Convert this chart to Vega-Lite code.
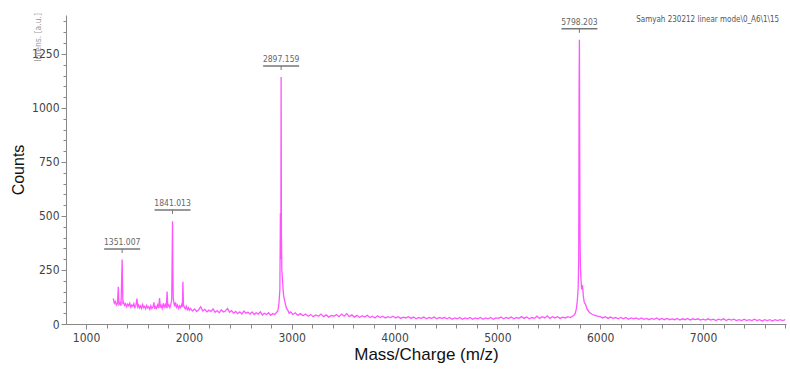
{
  "$schema": "https://vega.github.io/schema/vega-lite/v6.json",
  "width": 720,
  "height": 309,
  "autosize": "none",
  "padding": {"left": 66, "top": 15, "right": 4, "bottom": 45},
  "background": "white",
  "config": {"view": {"stroke": null}, "font": "Liberation Sans"},
  "datasets": {
    "spectrum": [
      {"mz":1265,"counts":118},{"mz":1275,"counts":96},{"mz":1285,"counts":104},{"mz":1295,"counts":88},{"mz":1305,"counts":95},{"mz":1314,"counts":172},{"mz":1320,"counts":90},{"mz":1330,"counts":98},{"mz":1340,"counts":84},{"mz":1351,"counts":298},{"mz":1358,"counts":92},{"mz":1365,"counts":100},{"mz":1375,"counts":86},{"mz":1385,"counts":94},{"mz":1395,"counts":80},{"mz":1405,"counts":92},{"mz":1415,"counts":84},{"mz":1425,"counts":96},{"mz":1435,"counts":78},{"mz":1445,"counts":88},{"mz":1455,"counts":82},{"mz":1465,"counts":94},{"mz":1475,"counts":76},{"mz":1485,"counts":86},{"mz":1495,"counts":118},{"mz":1502,"counts":80},{"mz":1510,"counts":88},{"mz":1520,"counts":74},{"mz":1530,"counts":84},{"mz":1540,"counts":72},{"mz":1550,"counts":90},{"mz":1560,"counts":76},{"mz":1570,"counts":82},{"mz":1580,"counts":70},{"mz":1590,"counts":86},{"mz":1600,"counts":74},{"mz":1610,"counts":80},{"mz":1620,"counts":68},{"mz":1630,"counts":84},{"mz":1640,"counts":72},{"mz":1650,"counts":78},{"mz":1660,"counts":100},{"mz":1668,"counts":70},{"mz":1675,"counts":80},{"mz":1685,"counts":72},{"mz":1695,"counts":88},{"mz":1705,"counts":74},{"mz":1715,"counts":120},{"mz":1722,"counts":76},{"mz":1730,"counts":86},{"mz":1740,"counts":72},{"mz":1750,"counts":96},{"mz":1760,"counts":78},{"mz":1770,"counts":90},{"mz":1780,"counts":74},{"mz":1788,"counts":150},{"mz":1795,"counts":80},{"mz":1805,"counts":88},{"mz":1815,"counts":76},{"mz":1825,"counts":92},{"mz":1833,"counts":110},{"mz":1838,"counts":333},{"mz":1841,"counts":476},{"mz":1844,"counts":250},{"mz":1848,"counts":120},{"mz":1855,"counts":96},{"mz":1862,"counts":82},{"mz":1870,"counts":100},{"mz":1880,"counts":78},{"mz":1890,"counts":88},{"mz":1900,"counts":72},{"mz":1910,"counts":84},{"mz":1920,"counts":76},{"mz":1930,"counts":90},{"mz":1937,"counts":80},{"mz":1942,"counts":195},{"mz":1947,"counts":90},{"mz":1955,"counts":78},{"mz":1965,"counts":70},{"mz":1975,"counts":82},{"mz":1985,"counts":66},{"mz":1995,"counts":76},{"mz":2005,"counts":64},
      {"mz":2015,"counts":72},{"mz":2035,"counts":60},{"mz":2055,"counts":70},{"mz":2075,"counts":58},{"mz":2095,"counts":66},{"mz":2115,"counts":80},{"mz":2135,"counts":60},{"mz":2155,"counts":68},{"mz":2175,"counts":56},{"mz":2195,"counts":64},{"mz":2215,"counts":58},{"mz":2235,"counts":70},{"mz":2255,"counts":54},{"mz":2275,"counts":62},{"mz":2295,"counts":52},{"mz":2315,"counts":66},{"mz":2335,"counts":56},{"mz":2355,"counts":60},{"mz":2375,"counts":72},{"mz":2395,"counts":54},{"mz":2415,"counts":62},{"mz":2435,"counts":50},{"mz":2455,"counts":58},{"mz":2475,"counts":48},{"mz":2495,"counts":56},{"mz":2515,"counts":46},{"mz":2535,"counts":60},{"mz":2555,"counts":50},{"mz":2575,"counts":54},{"mz":2595,"counts":46},{"mz":2615,"counts":56},{"mz":2635,"counts":44},{"mz":2655,"counts":52},{"mz":2675,"counts":46},{"mz":2695,"counts":56},{"mz":2715,"counts":42},{"mz":2735,"counts":50},{"mz":2755,"counts":44},{"mz":2775,"counts":52},{"mz":2795,"counts":40},{"mz":2815,"counts":48},{"mz":2835,"counts":44},{"mz":2850,"counts":52},{"mz":2865,"counts":60},{"mz":2875,"counts":90},{"mz":2885,"counts":160},{"mz":2890,"counts":514},{"mz":2894,"counts":300},{"mz":2897,"counts":1143},{"mz":2900,"counts":420},{"mz":2904,"counts":250},{"mz":2910,"counts":210},{"mz":2916,"counts":160},{"mz":2922,"counts":130},{"mz":2930,"counts":110},{"mz":2940,"counts":90},{"mz":2950,"counts":72},{"mz":2962,"counts":64},{"mz":2975,"counts":50},{"mz":2990,"counts":56},
      {"mz":3010,"counts":44},{"mz":3035,"counts":52},{"mz":3060,"counts":40},{"mz":3085,"counts":48},{"mz":3110,"counts":38},{"mz":3135,"counts":46},{"mz":3160,"counts":36},{"mz":3185,"counts":44},{"mz":3210,"counts":34},{"mz":3235,"counts":42},{"mz":3260,"counts":36},{"mz":3285,"counts":46},{"mz":3310,"counts":34},{"mz":3335,"counts":42},{"mz":3360,"counts":32},{"mz":3385,"counts":40},{"mz":3410,"counts":36},{"mz":3435,"counts":44},{"mz":3460,"counts":34},{"mz":3485,"counts":46},{"mz":3510,"counts":36},{"mz":3535,"counts":48},{"mz":3560,"counts":34},{"mz":3585,"counts":42},{"mz":3610,"counts":32},{"mz":3635,"counts":40},{"mz":3660,"counts":30},{"mz":3685,"counts":38},{"mz":3710,"counts":32},{"mz":3735,"counts":40},{"mz":3760,"counts":30},{"mz":3785,"counts":36},{"mz":3810,"counts":28},{"mz":3835,"counts":38},{"mz":3860,"counts":30},{"mz":3885,"counts":36},{"mz":3910,"counts":28},{"mz":3935,"counts":34},{"mz":3960,"counts":30},{"mz":3985,"counts":36},
      {"mz":4010,"counts":28},{"mz":4035,"counts":34},{"mz":4060,"counts":26},{"mz":4085,"counts":32},{"mz":4110,"counts":28},{"mz":4135,"counts":34},{"mz":4160,"counts":26},{"mz":4185,"counts":32},{"mz":4210,"counts":24},{"mz":4235,"counts":30},{"mz":4260,"counts":26},{"mz":4285,"counts":32},{"mz":4310,"counts":24},{"mz":4335,"counts":30},{"mz":4360,"counts":26},{"mz":4385,"counts":32},{"mz":4410,"counts":24},{"mz":4435,"counts":30},{"mz":4460,"counts":26},{"mz":4485,"counts":30},{"mz":4510,"counts":24},{"mz":4535,"counts":30},{"mz":4560,"counts":22},{"mz":4585,"counts":28},{"mz":4610,"counts":24},{"mz":4635,"counts":30},{"mz":4660,"counts":22},{"mz":4685,"counts":28},{"mz":4710,"counts":24},{"mz":4735,"counts":30},{"mz":4760,"counts":22},{"mz":4785,"counts":28},{"mz":4810,"counts":24},{"mz":4835,"counts":30},{"mz":4860,"counts":22},{"mz":4885,"counts":28},{"mz":4910,"counts":24},{"mz":4935,"counts":30},{"mz":4960,"counts":22},{"mz":4985,"counts":28},
      {"mz":5010,"counts":26},{"mz":5035,"counts":32},{"mz":5060,"counts":24},{"mz":5085,"counts":30},{"mz":5110,"counts":26},{"mz":5135,"counts":32},{"mz":5160,"counts":24},{"mz":5185,"counts":30},{"mz":5210,"counts":26},{"mz":5235,"counts":34},{"mz":5260,"counts":26},{"mz":5285,"counts":32},{"mz":5310,"counts":24},{"mz":5335,"counts":30},{"mz":5360,"counts":26},{"mz":5385,"counts":36},{"mz":5410,"counts":26},{"mz":5435,"counts":34},{"mz":5460,"counts":28},{"mz":5485,"counts":38},{"mz":5510,"counts":26},{"mz":5535,"counts":34},{"mz":5560,"counts":28},{"mz":5585,"counts":34},{"mz":5610,"counts":26},{"mz":5635,"counts":32},{"mz":5660,"counts":28},{"mz":5685,"counts":34},{"mz":5710,"counts":30},{"mz":5730,"counts":36},{"mz":5745,"counts":40},{"mz":5758,"counts":50},{"mz":5768,"counts":70},{"mz":5778,"counts":110},{"mz":5786,"counts":170},{"mz":5791,"counts":300},{"mz":5795,"counts":1100},{"mz":5798,"counts":1315},{"mz":5801,"counts":800},{"mz":5804,"counts":400},{"mz":5808,"counts":260},{"mz":5814,"counts":200},{"mz":5820,"counts":160},{"mz":5828,"counts":180},{"mz":5836,"counts":130},{"mz":5845,"counts":100},{"mz":5858,"counts":90},{"mz":5872,"counts":70},{"mz":5888,"counts":58},{"mz":5905,"counts":50},{"mz":5925,"counts":44},{"mz":5950,"counts":40},{"mz":5975,"counts":36},
      {"mz":6000,"counts":34},{"mz":6025,"counts":28},{"mz":6050,"counts":34},{"mz":6075,"counts":26},{"mz":6100,"counts":32},{"mz":6125,"counts":26},{"mz":6150,"counts":30},{"mz":6175,"counts":24},{"mz":6200,"counts":30},{"mz":6225,"counts":24},{"mz":6250,"counts":30},{"mz":6275,"counts":22},{"mz":6300,"counts":28},{"mz":6325,"counts":24},{"mz":6350,"counts":28},{"mz":6375,"counts":22},{"mz":6400,"counts":28},{"mz":6425,"counts":22},{"mz":6450,"counts":26},{"mz":6475,"counts":20},{"mz":6500,"counts":26},{"mz":6525,"counts":22},{"mz":6550,"counts":28},{"mz":6575,"counts":20},{"mz":6600,"counts":26},{"mz":6625,"counts":20},{"mz":6650,"counts":26},{"mz":6675,"counts":20},{"mz":6700,"counts":24},{"mz":6725,"counts":20},{"mz":6750,"counts":26},{"mz":6775,"counts":18},{"mz":6800,"counts":24},{"mz":6825,"counts":20},{"mz":6850,"counts":26},{"mz":6875,"counts":18},{"mz":6900,"counts":24},{"mz":6925,"counts":20},{"mz":6950,"counts":24},{"mz":6975,"counts":18},{"mz":7000,"counts":22},{"mz":7025,"counts":18},{"mz":7050,"counts":24},{"mz":7075,"counts":18},{"mz":7100,"counts":22},{"mz":7125,"counts":16},{"mz":7150,"counts":22},{"mz":7175,"counts":18},{"mz":7200,"counts":24},{"mz":7225,"counts":16},{"mz":7250,"counts":22},{"mz":7275,"counts":18},{"mz":7300,"counts":22},{"mz":7325,"counts":16},{"mz":7350,"counts":20},{"mz":7375,"counts":16},{"mz":7400,"counts":22},{"mz":7425,"counts":16},{"mz":7450,"counts":20},{"mz":7475,"counts":16},{"mz":7500,"counts":22},{"mz":7525,"counts":16},{"mz":7550,"counts":20},{"mz":7575,"counts":14},{"mz":7600,"counts":20},{"mz":7625,"counts":16},{"mz":7650,"counts":20},{"mz":7675,"counts":14},{"mz":7700,"counts":20},{"mz":7725,"counts":16},{"mz":7750,"counts":20},{"mz":7775,"counts":16},{"mz":7800,"counts":20}
    ],
    "peaks": [
      {"mz":1351,"level":347,"label":"1351.007"},
      {"mz":1841,"level":528,"label":"1841.013"},
      {"mz":2897,"level":1194,"label":"2897.159"},
      {"mz":5798,"level":1366,"label":"5798.203"}
    ],
    "notes": [
      {"mz":6350,"level":1405,"label":"Samyah 230212 linear mode\\0_A6\\1\\15"}
    ],
    "ylabel": [
      {"mz":805,"level":1430,"label":"Intens. [a.u.]"}
    ]
  },
  "layer": [
    {
      "data": {"name": "spectrum"},
      "mark": {"type": "line", "color": "#ff55ff", "strokeWidth": 1.3},
      "encoding": {
        "x": {
          "field": "mz", "type": "quantitative",
          "scale": {"domain": [805, 7807], "nice": false, "zero": false},
          "axis": {
            "title": "Mass/Charge (m/z)",
            "titleFont": "Liberation Sans", "titleFontSize": 17, "titleFontWeight": "normal", "titleColor": "#111",
            "titlePadding": 3,
            "tickCount": 200,
            "values": [1000,1200,1400,1600,1800,2000,2200,2400,2600,2800,3000,3200,3400,3600,3800,4000,4200,4400,4600,4800,5000,5200,5400,5600,5800,6000,6200,6400,6600,6800,7000,7200,7400,7600,7800],
            "format": "d",
            "labelExpr": "datum.value % 1000 === 0 ? datum.label : ''",
            "labelOverlap": false, "labelFlush": false,
            "labelFont": "Liberation Sans Narrow, DejaVu Sans Condensed, sans-serif",
            "labelFontSize": 12, "labelColor": "#444", "labelPadding": 3,
            "domainColor": "#888", "tickColor": "#888",
            "tickSize": {"condition": {"test": "datum.value % 1000 === 0", "value": 5}, "value": 4},
            "grid": false
          }
        },
        "y": {
          "field": "counts", "type": "quantitative",
          "scale": {"domain": [0, 1430], "nice": false},
          "axis": {
            "title": "Counts",
            "titleFont": "Liberation Sans", "titleFontSize": 16, "titleFontWeight": "normal", "titleColor": "#111",
            "titlePadding": 5,
            "tickCount": 200,
            "values": [0,50,100,150,200,250,300,350,400,450,500,550,600,650,700,750,800,850,900,950,1000,1050,1100,1150,1200,1250,1300,1350,1400],
            "format": "d",
            "labelExpr": "datum.value % 250 === 0 ? datum.label : ''",
            "labelOverlap": false, "labelFlush": false,
            "labelFont": "Liberation Sans Narrow, DejaVu Sans Condensed, sans-serif",
            "labelFontSize": 12, "labelColor": "#444", "labelPadding": 2,
            "domainColor": "#888", "tickColor": "#888",
            "tickSize": {"condition": {"test": "datum.value % 250 === 0", "value": 5}, "value": 3},
            "grid": false
          }
        }
      }
    },
    {
      "data": {"name": "peaks"},
      "mark": {"type": "rule", "color": "#777", "strokeWidth": 1.5, "xOffset": -18, "x2Offset": 18},
      "encoding": {
        "x": {"field": "mz", "type": "quantitative"},
        "x2": {"field": "mz"},
        "y": {"field": "level", "type": "quantitative"}
      }
    },
    {
      "data": {"name": "peaks"},
      "mark": {"type": "rule", "color": "#777", "strokeWidth": 1, "y2Offset": 4},
      "encoding": {
        "x": {"field": "mz", "type": "quantitative"},
        "y": {"field": "level", "type": "quantitative"},
        "y2": {"field": "level"}
      }
    },
    {
      "data": {"name": "peaks"},
      "mark": {"type": "text", "font": "DejaVu Sans Condensed", "fontSize": 8.5, "color": "#666", "baseline": "bottom", "dy": -2},
      "encoding": {
        "x": {"field": "mz", "type": "quantitative"},
        "y": {"field": "level", "type": "quantitative"},
        "text": {"field": "label"}
      }
    },
    {
      "data": {"name": "notes"},
      "mark": {"type": "text", "font": "DejaVu Sans Condensed", "fontSize": 8, "color": "#555", "align": "left", "baseline": "middle"},
      "encoding": {
        "x": {"field": "mz", "type": "quantitative"},
        "y": {"field": "level", "type": "quantitative"},
        "text": {"field": "label"}
      }
    },
    {
      "data": {"name": "ylabel"},
      "mark": {"type": "text", "font": "DejaVu Sans Condensed", "fontSize": 8.5, "color": "#999", "align": "right", "baseline": "middle", "angle": 270, "xOffset": -28, "yOffset": -2},
      "encoding": {
        "x": {"field": "mz", "type": "quantitative"},
        "y": {"field": "level", "type": "quantitative"},
        "text": {"field": "label"}
      }
    }
  ]
}
